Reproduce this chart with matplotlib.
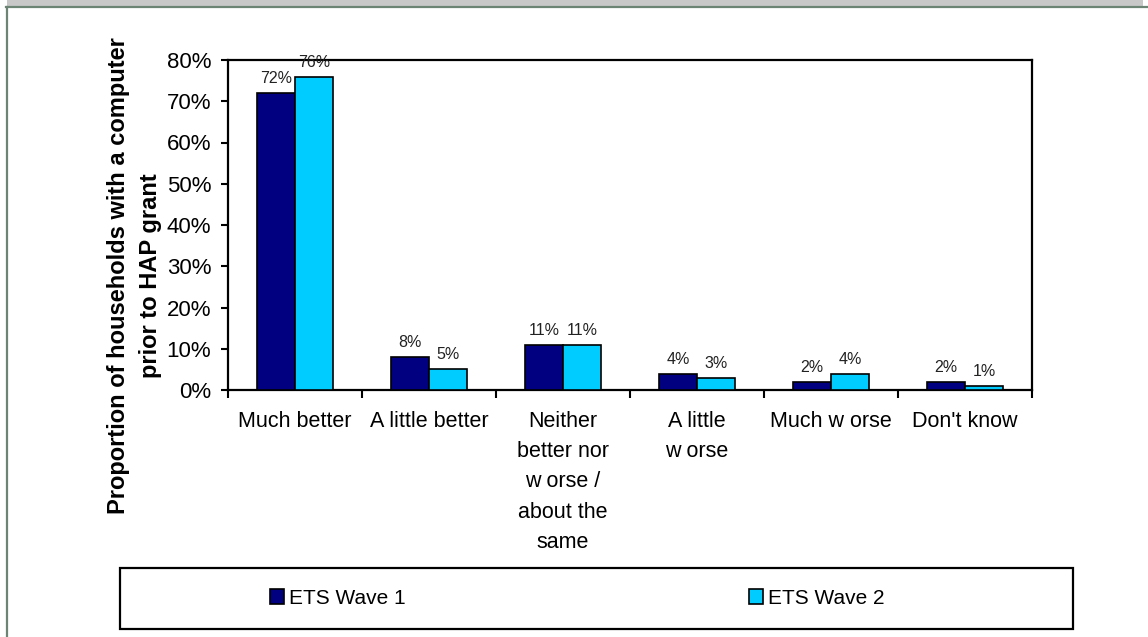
import matplotlib
matplotlib.use("Agg")
import matplotlib.pyplot as plt
import numpy as np
from matplotlib.patches import Rectangle
from matplotlib.lines import Line2D

categories = ["Much better", "A little better",
              "Neither\nbetter nor\nw orse /\nabout the\nsame",
              "A little\nw orse", "Much w orse", "Don't know"]
wave1 = [72, 8, 11, 4, 2, 2]
wave2 = [76, 5, 11, 3, 4, 1]
series_names = ["ETS Wave 1", "ETS Wave 2"]
colors = ["#000080", "#00CCFF"]
y_ticks = [0, 10, 20, 30, 40, 50, 60, 70, 80]

plt.rcParams['font.family'] = ['Liberation Sans', 'DejaVu Sans']

W, H = 1148, 637
fig = plt.figure(figsize=(W / 100, H / 100), dpi=100)

# grey band and frame of the surrounding page
fig.patches.append(Rectangle((7 / W, 1 - 6 / H), 1136 / W, 6 / H, transform=fig.transFigure,
                             facecolor="#c8c8c8", edgecolor="none"))
fig.lines.append(Line2D([6 / W, 1.0], [1 - 7 / H, 1 - 7 / H], transform=fig.transFigure,
                        color="#6b8474", lw=1.6))
fig.lines.append(Line2D([7 / W, 7 / W], [0, 1 - 7 / H], transform=fig.transFigure,
                        color="#6b8474", lw=1.6))

ax = fig.add_axes([228 / W, 1 - 390 / H, 804 / W, 330 / H])

x = np.arange(len(categories))
bar_w = 0.284
b1 = ax.bar(x - bar_w / 2, wave1, width=bar_w, color=colors[0], edgecolor="black", lw=1.2,
            label=series_names[0], zorder=3)
b2 = ax.bar(x + bar_w / 2, wave2, width=bar_w, color=colors[1], edgecolor="black", lw=1.2,
            label=series_names[1], zorder=3)

for bars, vals in ((b1, wave1), (b2, wave2)):
    for rect, v in zip(bars, vals):
        ax.annotate(f"{v}%", (rect.get_x() + rect.get_width() / 2, rect.get_height()),
                    xytext=(0, 5), textcoords="offset points", ha="center", va="bottom",
                    fontsize=11.5, color="#222222", zorder=4)

ax.set_xlim(-0.5, len(categories) - 0.5)
ax.set_ylim(0, 80)
ax.set_yticks(y_ticks)
ax.set_yticklabels([f"{t}%" for t in y_ticks], fontsize=16)
ax.tick_params(axis="y", direction="out", length=5, width=1.5, pad=7)

# ticks at category boundaries, labels at category centres
ax.set_xticks(np.arange(-0.5, len(categories), 1.0))
ax.set_xticklabels([])
ax.tick_params(axis="x", which="major", direction="out", length=6, width=1.5)
ax.set_xticks(x, minor=True)
ax.set_xticklabels(categories, minor=True, fontsize=15.5, linespacing=1.58, va="top")
ax.tick_params(axis="x", which="minor", length=0, pad=15)

for s in ax.spines.values():
    s.set_linewidth(1.6)

fig.text(135 / W, 1 - 276 / H,
         "Proportion of households with a computer\nprior to HAP grant",
         rotation=90, ha="center", va="center", fontsize=17, fontweight="bold",
         linespacing=1.5, multialignment="center")

# legend box with the two entries spread across it
fig.patches.append(Rectangle((120 / W, 1 - 629 / H), 953 / W, 61 / H, transform=fig.transFigure,
                             facecolor="white", edgecolor="black", lw=1.6))
handles = [Rectangle((0, 0), 1, 1, facecolor=c, edgecolor="black", lw=1.2) for c in colors]
leg = fig.legend(handles, series_names, loc="center left", ncol=2, fontsize=15,
                 bbox_to_anchor=(270 / W, 1 - 598 / H), frameon=False,
                 handlelength=0.65, handleheight=0.7, handletextpad=0.25,
                 columnspacing=16.5, borderpad=0, borderaxespad=0)

fig.savefig("out.png", dpi=100)
